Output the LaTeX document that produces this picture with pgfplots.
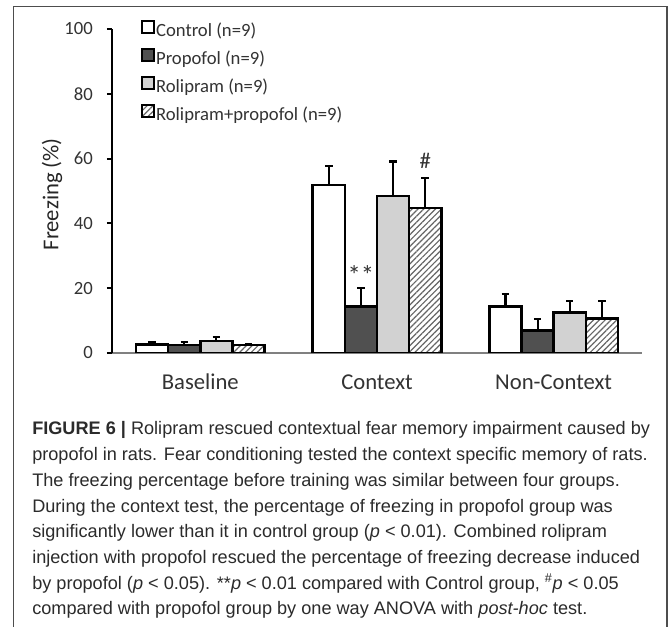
\documentclass[border=0pt]{standalone}
\usepackage{fontspec}
\setmainfont{Carlito}
\newfontfamily\capfont{Liberation Sans}
\usepackage{pgfplots}
\pgfplotsset{compat=1.18}
\usetikzlibrary{patterns.meta}
\definecolor{txt}{HTML}{333333}
\definecolor{captxt}{HTML}{2B2B2B}
\definecolor{darkbar}{HTML}{505050}
\definecolor{litebar}{HTML}{D2D2D2}
\definecolor{framec}{HTML}{4D4D4D}
\pgfplotsset{
  barsty/.style={draw=black, line width=1.8pt,
    error bars/y dir=plus, error bars/y explicit, error bars/error mark=-,
    error bars/error bar style={line width=1.6pt, black},
    error bars/error mark options={rotate=90, line width=1.6pt, mark size=2.8pt, black}},
}
\begin{document}
\begin{tikzpicture}
% page = 669 x 627 px, 1px = 0.75pt
\path[use as bounding box, fill=white] (0pt,0pt) rectangle (501.75pt,-470.25pt);
\draw[framec, line width=1.1pt] (10.1pt,-480pt) -- (10.1pt,-4.9pt) -- (500.25pt,-4.9pt) -- (500.25pt,-480pt);

\begin{axis}[
  at={(84pt,-264.75pt)}, anchor=south west,
  scale only axis, width=397.5pt, height=243pt,
  xmin=-0.5, xmax=2.5, ymin=0, ymax=100,
  axis x line=bottom, axis y line=left,
  x axis line style={-, draw=gray, line width=1.5pt},
  y axis line style={-, draw=black, line width=1.6pt},
  ybar=0pt, bar width=0.182,
  xtick={0,1,2}, xticklabels={Baseline,Context,Non-Context},
  ytick={0,20,40,60,80,100},
  tick align=outside, major tick length=3.75pt,
  x tick style={draw=none},
  y tick style={draw=black, line width=1.6pt},
  /pgf/number format/assume math mode=true,
  y tick label style={font=\fontsize{14}{14}\selectfont, text=txt, anchor=east, inner sep=0pt, xshift=-10.5pt},
  x tick label style={font=\fontsize{17}{17}\selectfont, text=txt, anchor=base, inner sep=0pt, yshift=-24pt},
  ylabel={Freezing (\%)},
  ylabel style={at={(axis description cs:-0.113,0.49)}, anchor=center, font=\fontsize{17}{17}\selectfont, text=black!85},
  legend style={at={(axis description cs:0.047,1.036)}, anchor=north west, draw=none, fill=none,
    font=\fontsize{14}{14}\selectfont, text=txt, row sep=4.8pt,
    nodes={inner sep=1pt, text height=10pt, text depth=3pt}, cells={anchor=west}},
  legend image code/.code={\draw[#1, line width=1.4pt] (0.2pt,-0.8pt) rectangle (9pt,8pt);},
]
\addplot[barsty, fill=white] coordinates {(0,2.6) +- (0,0.8) (1,51.8) +- (0,5.9) (2,14.3) +- (0,4.0)};
\addplot[barsty, fill=darkbar] coordinates {(0,2.5) +- (0,0.8) (1,14.3) +- (0,5.8) (2,7.0) +- (0,3.4)};
\addplot[barsty, fill=litebar] coordinates {(0,3.7) +- (0,1.2) (1,48.4) +- (0,10.7) (2,12.5) +- (0,3.6)};
\addplot[barsty, pattern={Lines[angle=45,distance=3.1pt,line width=0.9pt]}, pattern color=black!60] coordinates {(0,2.5) +- (0,0.4) (1,44.8) +- (0,9.1) (2,10.6) +- (0,5.5)};
\legend{Control (n=9), Propofol (n=9), Rolipram (n=9), Rolipram+propofol (n=9)}
\node[anchor=base, font=\fontsize{20}{20}\selectfont, text=txt] at (axis cs:0.909,21) {**};
\node[anchor=base, font=\fontsize{17}{17}\selectfont, text=txt] at (axis cs:1.273,57) {\#};
\end{axis}

\begin{scope}[every node/.style={anchor=base west, inner sep=0pt, text=captxt, font=\capfont\fontsize{13.6}{13.6}\selectfont}]
\node at (24pt,-326.25pt) {\textbf{FIGURE 6 |} Rolipram rescued contextual fear memory impairment caused by};
\node at (24pt,-345.5pt) {propofol in rats. Fear conditioning tested the context specific memory of rats.};
\node at (24pt,-364.8pt) {The freezing percentage before training was similar between four groups.};
\node at (24pt,-384.1pt) {During the context test, the percentage of freezing in propofol group was};
\node at (24pt,-403.35pt) {significantly lower than it in control group (\textit{p} < 0.01). Combined rolipram};
\node at (24pt,-422.6pt) {injection with propofol rescued the percentage of freezing decrease induced};
\node at (24pt,-441.9pt) {by propofol (\textit{p} < 0.05). **\textit{p} < 0.01 compared with Control group, \textsuperscript{\#}\textit{p} < 0.05};
\node at (24pt,-461.2pt) {compared with propofol group by one way ANOVA with \textit{post-hoc} test.};
\end{scope}
\end{tikzpicture}
\end{document}
